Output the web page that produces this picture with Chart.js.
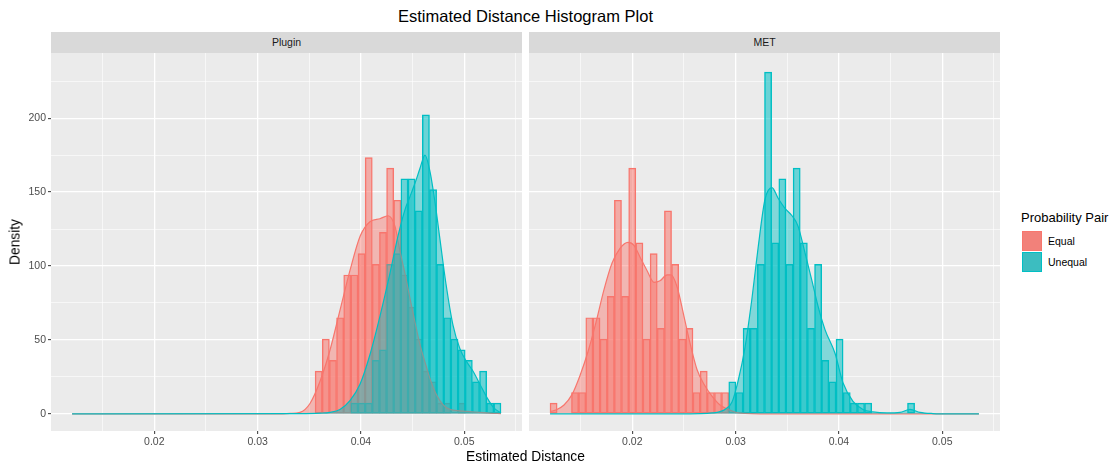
<!DOCTYPE html>
<html>
<head>
<meta charset="utf-8">
<title>Estimated Distance Histogram Plot</title>
<script src="https://cdn.jsdelivr.net/npm/chart.js@4.4.1/dist/chart.umd.min.js"></script>
<style>
  body { margin: 0; background: #fff; font-family: "Liberation Sans", Arial, sans-serif; }
  #page { position: relative; width: 1120px; height: 471px; overflow: hidden; }
  .abs { position: absolute; }
  #title { left: 0; width: 1051px; top: 7px; text-align: center; font-size: 16.5px; line-height: 19px; color: #000; }
  .strip { top: 32px; height: 21px; line-height: 21px; background: #D9D9D9; text-align: center; font-size: 10.5px; color: #1A1A1A; }
  #xTitle { left: 0; width: 1051px; top: 449px; text-align: center; font-size: 13.8px; line-height: 16px; color: #000; }
  #yTitle { left: 15px; top: 242px; transform: translate(-50%, -50%) rotate(-90deg); font-size: 13.8px; white-space: nowrap; color: #000; }
  #legendTitle { left: 1021px; top: 210px; font-size: 13px; line-height: 16px; color: #000; white-space: nowrap; }
  .key { left: 1022px; width: 20px; height: 20px; box-sizing: border-box; border: 1px solid; }
  .keyLabel { left: 1048px; font-size: 10.5px; line-height: 14px; color: #000; }
</style>
</head>
<body>
<div id="page">
  <div id="title" class="abs">Estimated Distance Histogram Plot</div>
  <div class="abs strip" style="left:51px;width:471px">Plugin</div>
  <div class="abs strip" style="left:529px;width:471px">MET</div>
  <div class="abs" style="left:0;top:53px"><canvas id="pluginChart" width="522" height="400"></canvas></div>
  <div class="abs" style="left:529px;top:53px"><canvas id="metChart" width="471" height="400"></canvas></div>
  <div id="xTitle" class="abs">Estimated Distance</div>
  <div id="yTitle" class="abs">Density</div>
  <div id="legendTitle" class="abs">Probability Pair</div>
  <div class="abs key" style="top:231px;background:#F2817A;border-color:#F8766D"></div>
  <div class="abs keyLabel" style="top:234px">Equal</div>
  <div class="abs key" style="top:252px;background:#3CBDC0;border-color:#00BFC4"></div>
  <div class="abs keyLabel" style="top:255px">Unequal</div>
</div>
<script>
let groups = ["Equal", "Unequal"]
let panels = ["Plugin", "MET"]

let xMin = 0.01
let xMax = 0.05559
let yMin = -11.6
let yMax = 244.1
let xTicks = [0.02, 0.03, 0.04, 0.05]
let xMinorTicks = [0.015, 0.025, 0.035, 0.045, 0.055]
let yTicks = [0, 50, 100, 150, 200]
let yMinorTicks = [25, 75, 125, 175, 225]

// 60 bins, counts per bin (density = count / (n * width))
let binStart = 0.012035
let binWidth = 0.000692
let sampleSize = 200

let pluginEqualCounts = [
  0, 0, 0, 0, 0, 0, 0, 0, 0, 0,
  0, 0, 0, 0, 0, 0, 0, 0, 0, 0,
  0, 0, 0, 0, 0, 0, 0, 0, 0, 0,
  0, 0, 0, 0, 4, 7, 5, 9, 13, 13,
  15, 24, 14, 17, 23, 20, 13, 10, 7, 4,
  3, 1, 1, 0, 1, 0, 0, 0, 0, 0
]
let pluginUnequalCounts = [
  0, 0, 0, 0, 0, 0, 0, 0, 0, 0,
  0, 0, 0, 0, 0, 0, 0, 0, 0, 0,
  0, 0, 0, 0, 0, 0, 0, 0, 0, 0,
  0, 0, 0, 0, 0, 0, 0, 0, 0, 1,
  1, 1, 5, 6, 14, 15, 22, 22, 19, 28,
  21, 14, 9, 7, 6, 5, 3, 4, 1, 1
]
let metEqualCounts = [
  1, 0, 0, 2, 2, 9, 9, 7, 11, 20,
  11, 23, 16, 7, 15, 8, 19, 14, 7, 8,
  2, 4, 2, 2, 2, 0, 0, 0, 0, 0,
  0, 0, 0, 0, 0, 0, 0, 0, 0, 0,
  0, 0, 0, 0, 0, 0, 0, 0, 0, 0,
  0, 0, 0, 0, 0, 0, 0, 0, 0, 0
]
let metUnequalCounts = [
  0, 0, 0, 0, 0, 0, 0, 0, 0, 0,
  0, 0, 0, 0, 0, 0, 0, 0, 0, 0,
  0, 0, 0, 0, 0, 3, 2, 8, 8, 14,
  32, 16, 22, 14, 23, 16, 8, 14, 5, 3,
  7, 2, 1, 1, 1, 0, 0, 0, 0, 0,
  1, 0, 0, 0, 0, 0, 0, 0, 0, 0
]

// density curves
let pluginEqualDensX = [0.01204, 0.03217, 0.03313, 0.03410, 0.03507, 0.03604, 0.03700, 0.03797, 0.03894, 0.03991,
  0.04087, 0.04184, 0.04262, 0.04329, 0.04378, 0.04426, 0.04475, 0.04523, 0.04571, 0.04620,
  0.04668, 0.04717, 0.04765, 0.04813, 0.04862, 0.04958, 0.05055, 0.05152, 0.05249, 0.05355]
let pluginEqualDensY = [0, 0, 0.3, 1, 7, 22, 43, 70, 97, 120,
  130, 132, 134, 127, 110, 95, 78, 62, 47, 35,
  24, 15, 9, 5, 3, 2, 1.5, 1, 0.5, 0.2]

let pluginUnequalDensX = [0.01204, 0.03410, 0.03604, 0.03700, 0.03797, 0.03894, 0.03991, 0.04087, 0.04184, 0.04281,
  0.04358, 0.04426, 0.04475, 0.04533, 0.04571, 0.04620, 0.04668, 0.04717, 0.04765, 0.04823,
  0.04891, 0.04958, 0.05026, 0.05084, 0.05152, 0.05220, 0.05287, 0.05355]
let pluginUnequalDensY = [0, 0.2, 0.5, 1, 3, 9, 20, 40, 66, 95,
  120, 138, 147, 158, 166, 175, 164, 143, 118, 88,
  60, 44, 35, 29, 20, 11, 4, 0.5]

let metEqualDensX = [0.01204, 0.01271, 0.01339, 0.01416, 0.01494, 0.01571, 0.01649, 0.01726, 0.01804, 0.01881,
  0.01958, 0.02016, 0.02075, 0.02142, 0.02210, 0.02268, 0.02336, 0.02375, 0.02433, 0.02500,
  0.02558, 0.02626, 0.02694, 0.02771, 0.02849, 0.02926, 0.03004, 0.03091, 0.03236, 0.05355]
let metEqualDensY = [1.5, 3, 6, 13, 26, 42, 62, 84, 102, 112,
  116, 114, 106, 97, 89, 90, 94, 94, 86, 66,
  48, 30, 20, 12, 6, 3, 1, 0.3, 0, 0]

let metUnequalDensX = [0.01204, 0.02558, 0.02657, 0.02771, 0.02849, 0.02907, 0.02965, 0.03023, 0.03091, 0.03158,
  0.03217, 0.03284, 0.03352, 0.03410, 0.03478, 0.03546, 0.03604, 0.03671, 0.03739, 0.03797,
  0.03865, 0.03962, 0.04039, 0.04136, 0.04233, 0.04329, 0.04465, 0.04591, 0.04688, 0.04784,
  0.04910, 0.05075, 0.05355]
let metUnequalDensY = [0, 0, 0.1, 0.6, 1.5, 3.5, 8, 22, 45, 78,
  112, 145, 153, 146, 139, 134, 127, 109, 90, 73,
  57, 41, 21, 8.5, 3, 1.3, 0.6, 1, 3, 1,
  0.2, 0, 0]

let lineColors = ["#F8766D", "#00BFC4"]
let barFills = ["rgba(248,118,109,0.55)", "rgba(0,191,196,0.55)"]
let densFills = ["rgba(248,118,109,0.45)", "rgba(0,191,196,0.45)"]

Chart.defaults.font.family = '"Liberation Sans", Arial, sans-serif'
Chart.defaults.color = "#4D4D4D"

let xGrid = xTicks.concat(xMinorTicks).sort((a, b) => a - b)
let yGrid = yTicks.concat(yMinorTicks).sort((a, b) => a - b)

function histPoints(counts) {
  let pts = []
  for (let i = 0; i < counts.length; i++) {
    if (counts[i] > 0) {
      pts.push({ x: binStart + (i + 0.5) * binWidth, y: counts[i] / (sampleSize * binWidth) })
    }
  }
  return pts
}

function densPoints(xs, ys) {
  return xs.map((x, i) => ({ x: x, y: ys[i] }))
}

let panelBg = {
  id: "panelBg",
  beforeDraw(chart) {
    let a = chart.chartArea
    let c = chart.ctx
    c.save()
    c.fillStyle = "#EBEBEB"
    c.fillRect(a.left, a.top, a.right - a.left, a.bottom - a.top)
    c.restore()
  }
}

function isMajor(list, ctx) {
  return ctx.tick && list.includes(ctx.tick.value)
}

function makeChart(canvasId, counts, dens, showY) {
  let datasets = []
  for (let g = 0; g < groups.length; g++) {
    datasets.push({
      type: "bar",
      label: groups[g],
      data: histPoints(counts[g]),
      backgroundColor: barFills[g],
      borderColor: lineColors[g],
      borderWidth: 0.8,
      borderSkipped: false,
      grouped: false,
      barPercentage: 1,
      categoryPercentage: 1,
      order: 4 - g
    })
  }
  for (let g = 0; g < groups.length; g++) {
    datasets.push({
      type: "line",
      label: groups[g] + " density",
      data: densPoints(dens[g][0], dens[g][1]),
      borderColor: lineColors[g],
      backgroundColor: densFills[g],
      borderWidth: 1.2,
      fill: "origin",
      pointRadius: 0,
      cubicInterpolationMode: "monotone",
      order: 2 - g
    })
  }

  return new Chart(document.getElementById(canvasId), {
    type: "bar",
    data: { datasets: datasets },
    plugins: [panelBg],
    options: {
      responsive: false,
      animation: false,
      devicePixelRatio: 1,
      layout: { padding: 0 },
      plugins: { legend: { display: false }, tooltip: { enabled: false }, title: { display: false } },
      scales: {
        x: {
          type: "linear",
          min: xMin,
          max: xMax,
          offset: false,
          afterBuildTicks: s => { s.ticks = xGrid.map(v => ({ value: v })) },
          afterFit: s => { s.height = 22; s.paddingLeft = 0; s.paddingRight = 0 },
          ticks: {
            autoSkip: false, maxRotation: 0, padding: 2, color: "#4D4D4D", font: { size: 10.5 },
            callback: v => xTicks.includes(v) ? v.toFixed(2) : ""
          },
          grid: {
            offset: false,
            color: "#FFFFFF",
            lineWidth: c => isMajor(xTicks, c) ? 1.3 : 0.6,
            tickColor: c => isMajor(xTicks, c) ? "#333333" : "rgba(0,0,0,0)",
            tickLength: 3,
            tickWidth: 1
          },
          border: { display: false }
        },
        y: {
          type: "linear",
          min: yMin,
          max: yMax,
          afterBuildTicks: s => { s.ticks = yGrid.map(v => ({ value: v })) },
          afterFit: s => { s.width = showY ? 51 : 0; s.paddingTop = 0; s.paddingBottom = 0 },
          ticks: {
            display: showY, autoSkip: false, padding: 2, color: "#4D4D4D", font: { size: 10.5 },
            callback: v => yTicks.includes(v) ? String(v) : ""
          },
          grid: {
            color: "#FFFFFF",
            lineWidth: c => isMajor(yTicks, c) ? 1.3 : 0.6,
            tickColor: c => isMajor(yTicks, c) ? "#333333" : "rgba(0,0,0,0)",
            drawTicks: showY,
            tickLength: 3,
            tickWidth: 1
          },
          border: { display: false }
        }
      }
    }
  })
}

let pluginChart = makeChart("pluginChart",
  [pluginEqualCounts, pluginUnequalCounts],
  [[pluginEqualDensX, pluginEqualDensY], [pluginUnequalDensX, pluginUnequalDensY]],
  true)
let metChart = makeChart("metChart",
  [metEqualCounts, metUnequalCounts],
  [[metEqualDensX, metEqualDensY], [metUnequalDensX, metUnequalDensY]],
  false)
</script>
</body>
</html>
